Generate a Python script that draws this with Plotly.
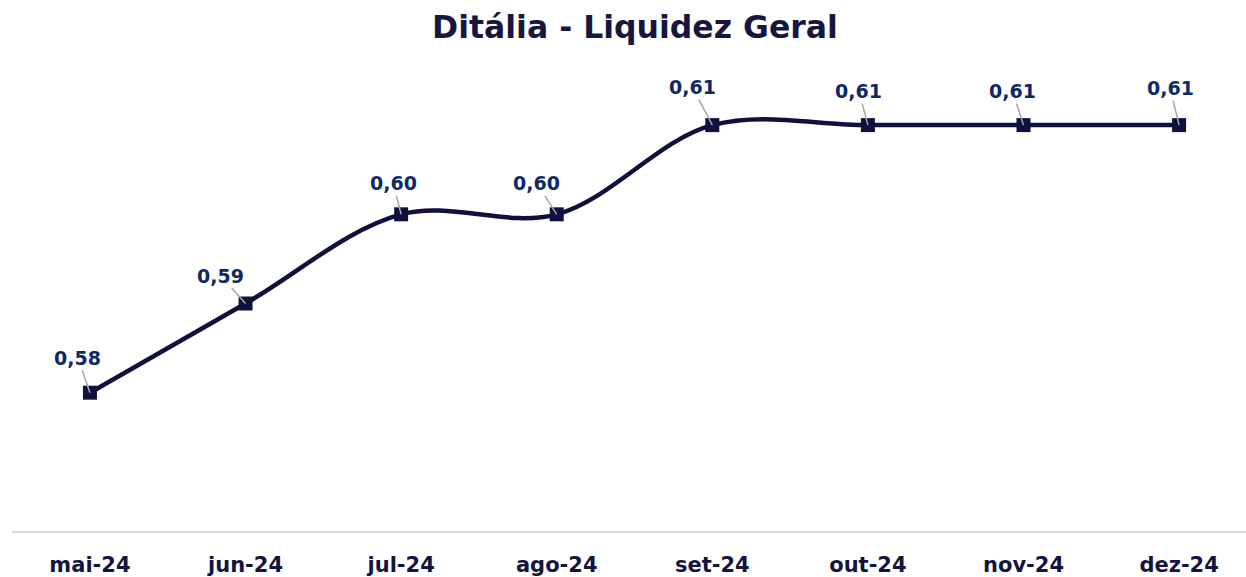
import plotly.graph_objects as go

months = ["mai-24", "jun-24", "jul-24", "ago-24", "set-24", "out-24", "nov-24", "dez-24"]
liquidez = [0.58, 0.59, 0.60, 0.60, 0.61, 0.61, 0.61, 0.61]
labels = ["0,58", "0,59", "0,60", "0,60", "0,61", "0,61", "0,61", "0,61"]
label_dx = [-12, -25, -8, -20, -20, -9, -11, -9]
label_dy = [-35, -28, -31, -31, -38, -34, -34, -37]

FONT = "DejaVu Sans"
NAVY = "#10103F"
LABEL = "#0D2A66"

fig = go.Figure()
fig.add_trace(go.Scatter(
    x=months, y=liquidez, mode="lines+markers",
    line=dict(color=NAVY, width=4.5, shape="spline", smoothing=1),
    marker=dict(symbol="square", size=14, color=NAVY),
    hoverinfo="skip", showlegend=False,
))

for m, v, t, dx, dy in zip(months, liquidez, labels, label_dx, label_dy):
    fig.add_annotation(
        x=m, y=v, text=f"<b>{t}</b>", showarrow=True, arrowhead=0,
        arrowwidth=1.5, arrowcolor="#A6A6A6", ax=dx, ay=dy, standoff=0,
        font=dict(family=FONT, size=19, color=LABEL),
    )

fig.update_layout(
    width=1246, height=577,
    margin=dict(l=12, r=0, t=60, b=46),
    paper_bgcolor="white", plot_bgcolor="white",
    title=dict(text="<b>Ditália - Liquidez Geral</b>", x=0.5096, xanchor="center",
               y=0.953, yanchor="middle",
               font=dict(family=FONT, size=31.5, color="#16163E")),
    xaxis=dict(showgrid=False, showline=True, linecolor="#D9D9D9", linewidth=2,
               ticks="", tickfont=dict(family=FONT, size=21, color="#14143C"),
               ticklabelstandoff=14,
               tickprefix="<b>", ticksuffix="</b>", range=[-0.501, 7.43], zeroline=False),
    yaxis=dict(visible=False, range=[0.564494, 0.6173], showgrid=False, zeroline=False),
)

fig.write_html("out.html", post_script="document.body.style.margin='0';",
               config={"displayModeBar": False})
